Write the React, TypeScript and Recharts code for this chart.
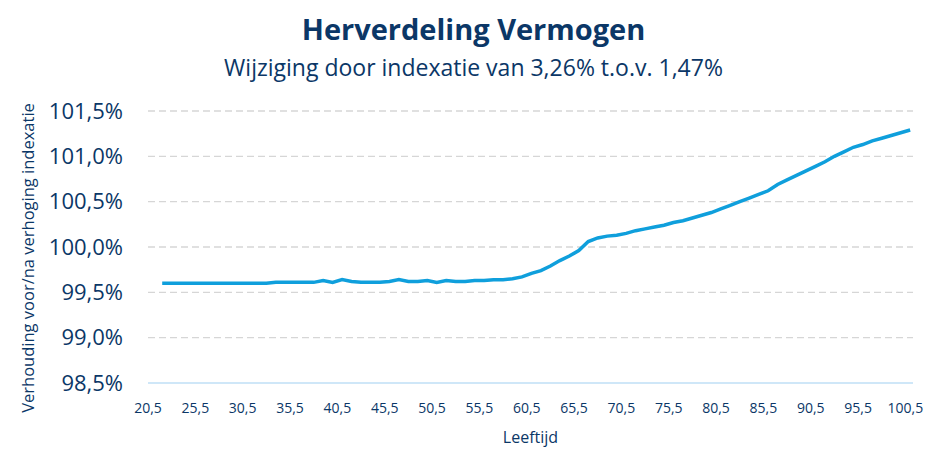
import React from 'react';
import { LineChart, Line, XAxis, YAxis, CartesianGrid, Label } from 'recharts';

const NAVY = '#0b3767';
const FONT = '"Open Sans", "Noto Sans", sans-serif';

// leeftijd (x) en verhouding voor/na verhoging indexatie in % (y)
const ages = [
  22, 23, 24, 25, 26, 27, 28, 29, 30, 31, 32, 33, 34, 35, 36, 37, 38, 39, 40, 41,
  42, 43, 44, 45, 46, 47, 48, 49, 50, 51, 52, 53, 54, 55, 56, 57, 58, 59, 60, 61,
  62, 63, 64, 65, 66, 67, 68, 69, 70, 71, 72, 73, 74, 75, 76, 77, 78, 79, 80, 81,
  82, 83, 84, 85, 86, 87, 88, 89, 90, 91, 92, 93, 94, 95, 96, 97, 98, 99, 100, 101,
];
const ratio = [
  99.6, 99.6, 99.6, 99.6, 99.6, 99.6, 99.6, 99.6, 99.6, 99.6, 99.6, 99.6, 99.61, 99.61, 99.61, 99.61, 99.61, 99.63, 99.61, 99.64,
  99.62, 99.61, 99.61, 99.61, 99.62, 99.64, 99.62, 99.62, 99.63, 99.61, 99.63, 99.62, 99.62, 99.63, 99.63, 99.64, 99.64, 99.65, 99.67, 99.71,
  99.74, 99.79, 99.85, 99.9, 99.96, 100.06, 100.1, 100.12, 100.13, 100.15, 100.18, 100.2, 100.22, 100.24, 100.27, 100.29, 100.32, 100.35, 100.38, 100.42,
  100.46, 100.5, 100.54, 100.58, 100.62, 100.69, 100.74, 100.79, 100.84, 100.89, 100.94, 101.0, 101.05, 101.1, 101.13, 101.17, 101.2, 101.23, 101.26, 101.29,
];

const xTicks = [20.5, 25.5, 30.5, 35.5, 40.5, 45.5, 50.5, 55.5, 60.5, 65.5, 70.5, 75.5, 80.5, 85.5, 90.5, 95.5, 100.5];
const yTicks = [98.5, 99, 99.5, 100, 100.5, 101, 101.5];

const data = ages.map((age, i) => ({ age, ratio: ratio[i] }));

const fmtX = (v: number) => String(v).replace('.', ',');
const fmtY = (v: number) => v.toFixed(1).replace('.', ',') + '%';

const YTitle = () => (
  <text
    x={34}
    y={258}
    transform="rotate(-90, 34, 258)"
    textAnchor="middle"
    fill={NAVY}
    fontSize={16.5}
    fontFamily={FONT}
  >
    Verhouding voor/na verhoging indexatie
  </text>
);

export default function App() {
  return (
    <div style={{ position: 'absolute', left: 0, top: 0, width: 947, height: 469, background: '#fff', fontFamily: FONT }}>
      <div style={{ position: 'absolute', top: 9, width: 947, textAlign: 'center', color: NAVY, fontSize: 29, fontWeight: 700 }}>
        Herverdeling Vermogen
      </div>
      <div style={{ position: 'absolute', top: 51, width: 947, textAlign: 'center', color: NAVY, fontSize: 23 }}>
        Wijziging door indexatie van 3,26% t.o.v. 1,47%
      </div>
      <LineChart
        width={947}
        height={469}
        data={data}
        margin={{ top: 111, right: 34, bottom: 56, left: 0 }}
        style={{ position: 'absolute', left: 0, top: 0 }}
      >
        <CartesianGrid vertical={false} stroke="#d6d6d6" strokeDasharray="7 4" strokeWidth={1.3} />
        <XAxis
          dataKey="age"
          type="number"
          domain={[20.5, 101.3]}
          ticks={xTicks}
          tickFormatter={fmtX}
          tickLine={false}
          tickSize={0}
          tickMargin={20}
          height={30}
          stroke="#cfe7f8"
          strokeWidth={2}
          tick={{ fill: NAVY, fontSize: 14, fontFamily: FONT }}
          interval={0}
        >
          <Label value="Leeftijd" position="insideBottom" offset={-30} fill={NAVY} fontSize={16} fontFamily={FONT} />
        </XAxis>
        <YAxis
          type="number"
          domain={[98.5, 101.5]}
          ticks={yTicks}
          tickFormatter={fmtY}
          axisLine={false}
          tickLine={false}
          tickSize={0}
          tickMargin={25}
          width={148}
          tick={{ fill: NAVY, fontSize: 22, fontFamily: FONT }}
          interval={0}
        >
          <Label content={<YTitle />} />
        </YAxis>
        <Line
          type="linear"
          dataKey="ratio"
          stroke="#0f9fdc"
          strokeWidth={3.5}
          dot={false}
          activeDot={false}
          isAnimationActive={false}
        />
      </LineChart>
    </div>
  );
}
